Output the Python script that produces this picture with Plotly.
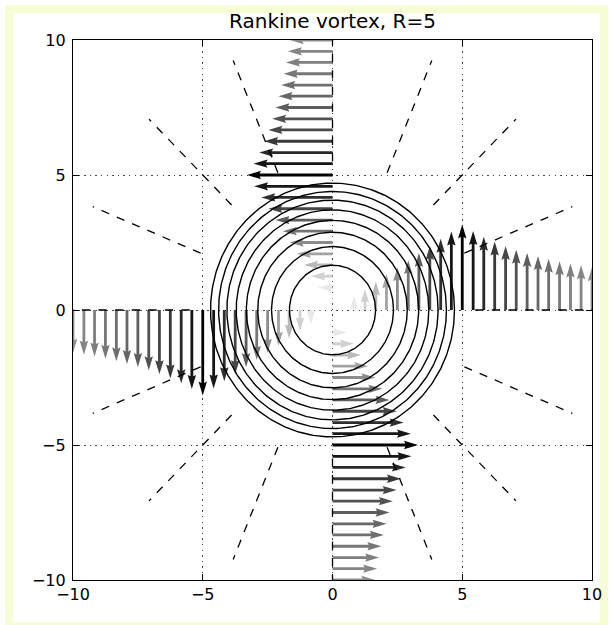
import numpy as np
import plotly.graph_objects as go

# ---------------- data ----------------
title_text = "Rankine vortex, R=5"
tick_vals = [-10, -5, 0, 5, 10]
tick_text = ["−10", "−5", "0", "5", "10"]

# radial positions of arrows along each half-axis, and the speed there
arrow_r = [0.42, 0.83, 1.25, 1.67, 2.08, 2.50, 2.92, 3.33, 3.75, 4.17, 4.58, 5.00,
           5.42, 5.83, 6.25, 6.67, 7.08, 7.50, 7.92, 8.33, 8.75, 9.17, 9.58, 10.00]
arrow_speed = [0.083, 0.167, 0.250, 0.333, 0.417, 0.500, 0.583, 0.667, 0.750, 0.833, 0.917, 1.000,
               0.923, 0.857, 0.800, 0.750, 0.706, 0.667, 0.632, 0.600, 0.571, 0.545, 0.522, 0.500]
half_axis_angles_deg = [0, 90, 180, 270]

streamline_radii = [1.66, 2.35, 2.88, 3.32, 3.71, 4.07, 4.39, 4.70]

ray_angles_deg = [0, 22.5, 45, 67.5, 90, 112.5, 135, 157.5,
                  180, 202.5, 225, 247.5, 270, 292.5, 315, 337.5]
ray_r_inner = [5.5] * len(ray_angles_deg)
ray_r_outer = [10.0] * len(ray_angles_deg)

# ---------------- layout geometry ----------------
W, H = 613, 625
ML, MR, MT, MB = 73, 21, 40, 45
PW, PH = W - ML - MR, H - MT - MB
XR, YR = (-10, 10), (-10, 10)
px_x = PW / (XR[1] - XR[0])
px_y = PH / (YR[1] - YR[0])

# quiver style (pixel units)
px_per_speed = 85.5
shaft_w = 2.8
head_w, head_l, head_axl = 3.0, 5.0, 4.5

fig = go.Figure()

vmin, vmax = min(arrow_speed), max(arrow_speed)


def arrow_polygon(L):
    """matplotlib-like quiver arrow in shaft-width units, pointing +x."""
    if L < head_l:
        s = L / head_l
        X = np.array([0, head_l - head_axl, 0, head_l, 0, head_l - head_axl, 0, 0]) * s
        Y = np.array([0.5, 0.5, 1.5, 0, -1.5, -0.5, -0.5, 0.5]) * s
    else:
        X = np.array([0, L - head_axl, L - head_l, L, L - head_l, L - head_axl, 0, 0])
        Y = np.array([0.5, 0.5, 0.5 * head_w, 0, -0.5 * head_w, -0.5, -0.5, 0.5])
    return X, Y


for ang in half_axis_angles_deg:
    a = np.deg2rad(ang)
    d = a + np.pi / 2  # counter-clockwise tangential direction
    for r, v in zip(arrow_r, arrow_speed):
        x0, y0 = r * np.cos(a), r * np.sin(a)
        L = v * px_per_speed / shaft_w
        X, Y = arrow_polygon(L)
        X, Y = X * shaft_w, Y * shaft_w
        Xr = X * np.cos(d) - Y * np.sin(d)
        Yr = X * np.sin(d) + Y * np.cos(d)
        t = (v - vmin) / (vmax - vmin)
        g = int(round(255 * (1 - t)))
        col = f"rgb({g},{g},{g})"
        fig.add_trace(go.Scatter(
            x=x0 + Xr / px_x, y=y0 + Yr / px_y, mode="lines", fill="toself",
            fillcolor=col, line=dict(width=0, color=col),
            hoverinfo="skip", showlegend=False))

# streamlines (circles)
th = np.linspace(0, 2 * np.pi, 361)
for rr in streamline_radii:
    fig.add_trace(go.Scatter(x=rr * np.cos(th), y=rr * np.sin(th), mode="lines",
                             line=dict(color="black", width=1.4),
                             hoverinfo="skip", showlegend=False))

# dashed radial rays
for ang, r0, r1 in zip(ray_angles_deg, ray_r_inner, ray_r_outer):
    a = np.deg2rad(ang)
    fig.add_trace(go.Scatter(x=[r0 * np.cos(a), r1 * np.cos(a)],
                             y=[r0 * np.sin(a), r1 * np.sin(a)], mode="lines",
                             line=dict(color="black", width=1.3, dash="8.3px,8.3px"),
                             hoverinfo="skip", showlegend=False))

axis_common = dict(
    range=list(XR), tickvals=tick_vals, ticktext=tick_text,
    showline=True, mirror="ticks", linecolor="black", linewidth=1.2,
    ticks="inside", ticklen=6, tickwidth=1, tickcolor="black",
    showgrid=True, gridcolor="#444", gridwidth=1, griddash="1.4px,4.2px",
    zeroline=False, tickfont=dict(family="DejaVu Sans", size=16, color="black"),
    fixedrange=True,
)


def px2paper_x(p):
    return (p - ML) / PW


def px2paper_y(p):
    return (H - MB - p) / PH


fig.update_layout(
    width=W, height=H,
    margin=dict(l=ML, r=MR, t=MT, b=MB, pad=0),
    paper_bgcolor="white", plot_bgcolor="white",
    xaxis=axis_common,
    yaxis=dict(axis_common, range=list(YR), ticklabelstandoff=3),
    title=dict(text=title_text, x=0.5, xref="paper", xanchor="center",
               y=1 - 21 / H, yref="container", yanchor="middle",
               font=dict(family="DejaVu Sans", size=20, color="black")),
    shapes=[dict(type="rect", xref="paper", yref="paper",
                 x0=px2paper_x(9), x1=px2paper_x(604),
                 y0=px2paper_y(9), y1=px2paper_y(626),
                 line=dict(color="#f6fcd4", width=8), fillcolor="rgba(0,0,0,0)",
                 layer="below")],
)

fig.write_html(
    "out.html",
    config={"displayModeBar": False},
    post_script="document.body.style.margin='0';document.body.style.padding='0';"
                "document.body.style.overflow='hidden';",
)
